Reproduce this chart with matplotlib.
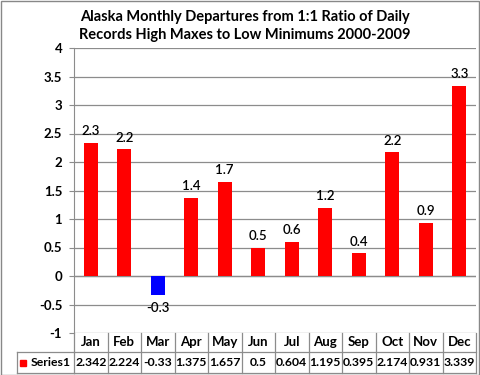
import matplotlib
matplotlib.use("Agg")
import matplotlib.pyplot as plt
import matplotlib.transforms as mtransforms
from matplotlib.patches import Rectangle
import numpy as np

months = ["Jan", "Feb", "Mar", "Apr", "May", "Jun",
          "Jul", "Aug", "Sep", "Oct", "Nov", "Dec"]
values = [2.342, 2.224, -0.33, 1.375, 1.657, 0.5,
          0.604, 1.195, 0.395, 2.174, 0.931, 3.339]
table_text = ["2.342", "2.224", "-0.33", "1.375", "1.657", "0.5",
              "0.604", "1.195", "0.395", "2.174", "0.931", "3.339"]
series_name = "Series1"
title = ("Alaska Monthly Departures from 1:1 Ratio of Daily\n"
         "Records High Maxes to Low Minimums 2000-2009")

plt.rcParams['font.family'] = ['Lato', 'DejaVu Sans']
W, H = 480, 375
fig = plt.figure(figsize=(W / 100, H / 100), dpi=100)
fig.patch.set_facecolor("white")
fig.add_artist(Rectangle((0.5 / W, 0.5 / H), 1 - 1.5 / W, 1 - 1.5 / H,
                         transform=fig.transFigure, fill=False,
                         edgecolor="#888888", lw=1))

left, right, top, bottom = 74, 476, 48, 333
ax = fig.add_axes([left / W, 1 - bottom / H, (right - left) / W, (bottom - top) / H])

x = np.arange(len(months))
colors = ["#0000FF" if v < 0 else "#FF0000" for v in values]
ax.bar(x, values, width=0.42, color=colors, zorder=3)

for xi, v in zip(x, values):
    if v >= 0:
        ax.annotate(f"{v:.1f}", (xi, v), xytext=(0, 4), textcoords="offset points",
                    ha="center", va="bottom", fontsize=9.5, fontweight="semibold")
    else:
        ax.annotate(f"{v:.1f}", (xi, v), xytext=(0, -5), textcoords="offset points",
                    ha="center", va="top", fontsize=9.5, fontweight="semibold")

ax.set_xlim(-0.5, 11.5)
ax.set_ylim(-1, 4)
ax.set_yticks(np.arange(-1, 4.01, 0.5))
ax.set_yticklabels([f"{t:g}" for t in np.arange(-1, 4.01, 0.5)], fontsize=9.5,
                   fontweight="bold")
ax.yaxis.grid(True, color="#8c8c8c", lw=0.9, zorder=0)
ax.set_axisbelow(True)
ax.tick_params(axis="y", length=3.5, color="#8c8c8c", pad=5)
ax.tick_params(axis="x", length=0, labelbottom=False)
for s in ["top", "right", "bottom"]:
    ax.spines[s].set_visible(False)
ax.spines["left"].set_color("#8c8c8c")
ax.axhline(0, color="#8c8c8c", lw=0.9, zorder=2)

# data table under the plot
trans = mtransforms.blended_transform_factory(ax.transData, ax.transAxes)
ah = bottom - top
row1_bot = -(352 - bottom) / ah
row2_bot = -(373 - bottom) / ah
lc = "#8c8c8c"
for k in range(len(months) + 1):
    xb = k - 0.5
    ax.plot([xb, xb], [0, row2_bot], transform=trans, color=lc, lw=0.9, clip_on=False)
ax.plot([-0.5, 11.5], [row1_bot, row1_bot], transform=trans, color=lc, lw=0.9, clip_on=False)
ax.plot([-0.5, 11.5], [row2_bot, row2_bot], transform=trans, color=lc, lw=0.9, clip_on=False)

cell_w = (right - left) / 12
lab_left = -0.5 - (left - 17) / cell_w
ax.plot([lab_left, -0.5], [row1_bot, row1_bot], transform=trans, color=lc, lw=0.9, clip_on=False)
ax.plot([lab_left, -0.5], [row2_bot, row2_bot], transform=trans, color=lc, lw=0.9, clip_on=False)
ax.plot([lab_left, lab_left], [row1_bot, row2_bot], transform=trans, color=lc, lw=0.9, clip_on=False)

for xi, m, t in zip(x, months, table_text):
    ax.text(xi, row1_bot / 2, m, transform=trans, ha="center", va="center",
            fontsize=9.5, fontweight="bold")
    ax.text(xi, (row1_bot + row2_bot) / 2, t, transform=trans, ha="center",
            va="center", fontsize=8.8, fontweight="bold")

key_x = -0.5 - (left - 20) / cell_w
ax.add_patch(Rectangle((key_x, (row1_bot + row2_bot) / 2 - 6 / ah / 2), 6 / cell_w, 6 / ah,
                       transform=trans, color="#FF0000", clip_on=False))
ax.text(-0.5 - (left - 31) / cell_w, (row1_bot + row2_bot) / 2, series_name,
        transform=trans, ha="left", va="center", fontsize=8.8, fontweight="bold")

fig.text(245 / W, 1 - 26 / H, title, ha="center", va="center", fontsize=10.5,
         fontweight="bold", linespacing=1.3)

fig.savefig("out.png", dpi=100)
